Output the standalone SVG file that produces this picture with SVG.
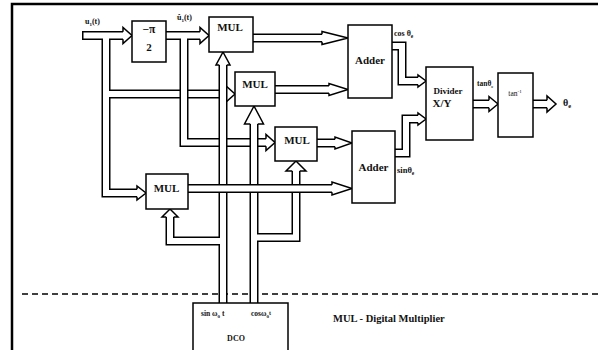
<svg xmlns="http://www.w3.org/2000/svg" xmlns:xlink="http://www.w3.org/1999/xlink" width="598" height="350" viewBox="0 0 598 350">
<style>
.box{fill:#fff;stroke:#000;stroke-width:1.5}
.o{fill:none;stroke:#000;stroke-width:9;stroke-linejoin:miter}
.i{fill:none;stroke:#fff;stroke-width:6;stroke-linejoin:miter}
.ah{fill:#fff;stroke:#000;stroke-width:1.5;stroke-linejoin:miter}
text{font-family:"Liberation Serif","Times New Roman",serif;font-weight:bold;fill:#111}
.t11{font-size:11px}
.t8{font-size:8px}
.mid{text-anchor:middle}
</style>
<defs>
<path id="pA" d="M82,35.5 H125 M106,35.5 V193 H139 M106,94 H228"/>
<path id="pB" d="M166,35.5 H202 M184,35.5 V142.5 H268"/>
<path id="pC" d="M223,303 V63 M223,241 H170 V215"/>
<path id="pD" d="M254,303 V122 M254,237.5 H296 V169"/>
<path id="p1" d="M253,38 H324"/>
<path id="p2" d="M275,89.5 H331"/>
<path id="p3" d="M317,143 H337"/>
<path id="p4" d="M188,188.5 H334"/>
<path id="p5" d="M392,46 H402 V81 H420"/>
<path id="p6" d="M395,153 H406 V119 H420"/>
<path id="p7" d="M473,104 H491"/>
<path id="p8" d="M533,104 H549"/>
</defs>

<path d="M12,352 V4 H600" fill="none" stroke="#000" stroke-width="2.5"/>
<line x1="22" y1="294" x2="598" y2="294" stroke="#000" stroke-width="1.5" stroke-dasharray="6 4"/>

<g id="connectors">
  <g id="c-input">
    <use xlink:href="#pA" class="o"/><use xlink:href="#pA" class="i"/>
    <line x1="82.75" y1="31.5" x2="82.75" y2="39.5" stroke="#000" stroke-width="1.5"/>
    <path class="ah" d="M123,31.75 V27.5 L132,35.5 L123,43.5 V39.25"/>
    <path class="ah" d="M226,90.25 V86 L235,94 L226,102 V97.75"/>
    <path class="ah" d="M137,189.25 V186 L146,193 L137,200 V196.75"/>
  </g>
  <g id="c-uhat">
    <use xlink:href="#pB" class="o"/><use xlink:href="#pB" class="i"/>
    <path class="ah" d="M200,31.75 V27.5 L209,35.5 L200,43.5 V39.25"/>
    <path class="ah" d="M266,138.75 V134.5 L275,142.5 L266,150.5 V146.25"/>
  </g>
  <g id="c-sin">
    <use xlink:href="#pC" class="o"/><use xlink:href="#pC" class="i"/>
    <path class="ah" d="M219.25,65 H216 L223,52 L230,65 H226.75"/>
    <path class="ah" d="M166.25,217 H162 L170,209 L178,217 H173.75"/>
  </g>
  <g id="c-cos">
    <use xlink:href="#pD" class="o"/><use xlink:href="#pD" class="i"/>
    <path class="ah" d="M250.25,124 H244.5 L254,106 L263.5,124 H257.75"/>
    <path class="ah" d="M292.25,171 H286 L296,161 L306,171 H299.75"/>
  </g>
  <g id="c-out">
    <use xlink:href="#p1" class="o"/><use xlink:href="#p1" class="i"/>
    <path class="ah" d="M322,34.25 V31.5 L348,38 L322,44.5 V41.75"/>
    <use xlink:href="#p2" class="o"/><use xlink:href="#p2" class="i"/>
    <path class="ah" d="M329,85.75 V83.5 L348,89.5 L329,95.5 V93.25"/>
    <use xlink:href="#p3" class="o"/><use xlink:href="#p3" class="i"/>
    <path class="ah" d="M335,139.25 V137 L352,143 L335,149 V146.75"/>
    <use xlink:href="#p4" class="o"/><use xlink:href="#p4" class="i"/>
    <path class="ah" d="M332,184.75 V182 L352,188.5 L332,195 V192.25"/>
    <use xlink:href="#p5" class="o"/><use xlink:href="#p5" class="i"/>
    <path class="ah" d="M418,77.25 V75 L426,81 L418,87 V84.75"/>
    <use xlink:href="#p6" class="o"/><use xlink:href="#p6" class="i"/>
    <path class="ah" d="M418,115.25 V113 L426,119 L418,125 V122.75"/>
    <use xlink:href="#p7" class="o"/><use xlink:href="#p7" class="i"/>
    <path class="ah" d="M489,100.25 V96.5 L498,104 L489,111.5 V107.75"/>
    <use xlink:href="#p8" class="o"/><use xlink:href="#p8" class="i"/>
    <path class="ah" d="M547,100.25 V96 L556,104 L547,112 V107.75"/>
  </g>
</g>

<g id="n-phase">
  <rect class="box" x="132" y="21" width="34" height="41"/>
  <text x="149" y="33" class="mid" style="font-size:11.5px">−π</text>
  <text x="149" y="51" class="mid" style="font-size:11px">2</text>
</g>
<g id="n-mul1">
  <rect class="box" x="209" y="17" width="44" height="35"/>
  <text x="230" y="31" class="t11 mid">MUL</text>
</g>
<g id="n-mul2">
  <rect class="box" x="235" y="72" width="40" height="34"/>
  <text x="255" y="88" class="t11 mid">MUL</text>
</g>
<g id="n-mul3">
  <rect class="box" x="275" y="127" width="42" height="34"/>
  <text x="297" y="144" class="t11 mid">MUL</text>
</g>
<g id="n-mul4">
  <rect class="box" x="146" y="174" width="42" height="35"/>
  <text x="166.5" y="192" class="t11 mid">MUL</text>
</g>
<g id="n-adder1">
  <rect class="box" x="348" y="25" width="44" height="73"/>
  <text x="370" y="64" class="t11 mid">Adder</text>
</g>
<g id="n-adder2">
  <rect class="box" x="352" y="131" width="43" height="72"/>
  <text x="373.5" y="171" class="t11 mid">Adder</text>
</g>
<g id="n-divider">
  <rect class="box" x="426" y="67" width="47" height="73"/>
  <text x="448" y="94" class="mid" style="font-size:9px">Divider</text>
  <text x="442" y="107" class="t11 mid">X/Y</text>
</g>
<g id="n-atan">
  <rect class="box" x="498" y="73" width="35" height="64"/>
  <text x="515" y="96" class="mid" style="font-size:7.5px;font-weight:normal">tan<tspan dy="-3" style="font-size:5px">-1</tspan></text>
</g>
<g id="n-dco">
  <rect class="box" x="193" y="303" width="95" height="49"/>
  <text x="201" y="316" style="font-size:7.5px">sin ω<tspan dy="2" style="font-size:5px">0</tspan><tspan dy="-2"> t</tspan></text>
  <text x="251" y="316" style="font-size:7.5px">cosω<tspan dy="2" style="font-size:5px">0</tspan><tspan dy="-3" style="font-size:6px">t</tspan></text>
  <text x="236" y="341" class="mid" style="font-size:8px">DCO</text>
</g>

<g id="labels">
  <text x="85" y="24" class="t8">u<tspan dy="2" style="font-size:5px">1</tspan><tspan dy="-2">(t)</tspan></text>
  <text x="177" y="20" class="t8">û<tspan dy="2" style="font-size:5px">1</tspan><tspan dy="-2">(t)</tspan></text>
  <text x="394" y="36" class="t8">cos θ<tspan dy="2" style="font-size:5.5px">e</tspan></text>
  <text x="397" y="173" style="font-size:8.5px">sinθ<tspan dy="2" style="font-size:5.5px">e</tspan></text>
  <text x="477" y="86" style="font-size:7.5px">tanθ<tspan dy="2" style="font-size:5px">e</tspan></text>
  <text x="563" y="106" style="font-size:10px">θ<tspan dy="2" style="font-size:6.5px">e</tspan></text>
  <text x="333" y="322" style="font-size:10.5px">MUL - Digital Multiplier</text>
</g>
</svg>
